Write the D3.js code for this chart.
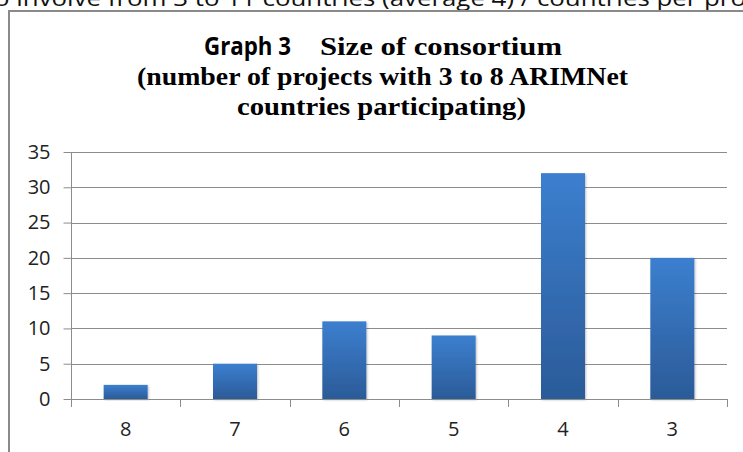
<!DOCTYPE html>
<html>
<head>
<meta charset="utf-8">
<script src="https://cdn.jsdelivr.net/npm/d3@7"></script>
<style>
  html, body { margin: 0; padding: 0; background: #fff; }
  svg { display: block; }
</style>
</head>
<body>
<svg id="chart" width="743" height="452"></svg>
<script>
const categories = ["8", "7", "6", "5", "4", "3"];
const values = [2, 5, 11, 9, 32, 20];
const yTicks = [0, 5, 10, 15, 20, 25, 30, 35];
const titleLine1a = "Graph 3";
const titleLine1b = "Size of consortium";
const titleLine2 = "(number of projects with 3 to 8 ARIMNet";
const titleLine3 = "countries participating)";
const topText = "o involve from 3 to 11 countries (average 4) / countries per pro";

const svg = d3.select("#chart");
const W = 743, H = 452;
const m = { left: 71, right: 727, top: 152, bottom: 399 };

// cropped text at top of page
svg.append("text")
  .attr("x", -6).attr("y", 6)
  .attr("font-family", "Open Sans, Liberation Sans, sans-serif")
  .attr("font-size", 22)
  .attr("fill", "#111")
  .attr("textLength", 752)
  .attr("lengthAdjust", "spacingAndGlyphs")
  .text(topText);

// chart border
svg.append("rect")
  .attr("x", 9).attr("y", 11)
  .attr("width", 800).attr("height", 500)
  .attr("fill", "#fff")
  .attr("stroke", "#8a8a8a")
  .attr("stroke-width", 2);

const defs = svg.append("defs");
const grad = defs.append("linearGradient")
  .attr("id", "barGrad").attr("x1", 0).attr("y1", 0).attr("x2", 0).attr("y2", 1);
grad.append("stop").attr("offset", "0%").attr("stop-color", "#3c7fcf");
grad.append("stop").attr("offset", "100%").attr("stop-color", "#2b5b98");

const filter = defs.append("filter").attr("id", "shadow")
  .attr("x", "-20%").attr("y", "-10%").attr("width", "140%").attr("height", "120%");
filter.append("feDropShadow").attr("dx", 1).attr("dy", 1).attr("stdDeviation", 1)
  .attr("flood-color", "#000").attr("flood-opacity", 0.25);

// Title
const serif = "Liberation Serif, DejaVu Serif, serif";
const title1 = svg.append("text")
  .attr("y", 55).attr("font-weight", "bold").attr("fill", "#000");
title1.append("tspan")
  .attr("x", 204)
  .attr("font-family", "Liberation Sans Narrow, Open Sans, sans-serif")
  .attr("font-size", 25)
  .attr("textLength", 87).attr("lengthAdjust", "spacingAndGlyphs")
  .text(titleLine1a);
title1.append("tspan")
  .attr("x", 320)
  .attr("font-family", serif)
  .attr("font-size", 25)
  .attr("textLength", 242).attr("lengthAdjust", "spacingAndGlyphs")
  .text(titleLine1b);

svg.append("text")
  .attr("x", 137).attr("y", 85)
  .attr("font-family", serif).attr("font-size", 25).attr("font-weight", "bold")
  .attr("textLength", 491).attr("lengthAdjust", "spacingAndGlyphs")
  .text(titleLine2);
svg.append("text")
  .attr("x", 237).attr("y", 115)
  .attr("font-family", serif).attr("font-size", 25).attr("font-weight", "bold")
  .attr("textLength", 289).attr("lengthAdjust", "spacingAndGlyphs")
  .text(titleLine3);

// Scales
const x = d3.scaleBand().domain(categories).range([m.left, m.right]).paddingInner(0).paddingOuter(0);
const y = d3.scaleLinear().domain([0, 35]).range([m.bottom, m.top]);

const gridColor = "#8c8c8c";

// Gridlines
svg.append("g")
  .selectAll("line")
  .data(yTicks.filter(d => d > 0))
  .join("line")
  .attr("x1", m.left).attr("x2", m.right)
  .attr("y1", d => Math.round(y(d)) + 0.5).attr("y2", d => Math.round(y(d)) + 0.5)
  .attr("stroke", gridColor).attr("stroke-width", 1);

// Y axis
const yAxis = svg.append("g")
  .attr("transform", `translate(${m.left + 0.5},0)`)
  .call(d3.axisLeft(y).tickValues(yTicks).tickSize(8).tickPadding(13));
yAxis.select(".domain").attr("stroke", gridColor).attr("d", `M0,${m.top}V${m.bottom + 8}`);
yAxis.selectAll(".tick line").attr("stroke", gridColor);
yAxis.selectAll(".tick text")
  .attr("font-family", "Open Sans, Liberation Sans, sans-serif")
  .attr("font-size", 20).attr("fill", "#222");

// Bars
const bw = 44;
svg.append("g")
  .selectAll("rect")
  .data(values)
  .join("rect")
  .attr("x", (d, i) => x(categories[i]) + x.bandwidth() / 2 - bw / 2)
  .attr("width", bw)
  .attr("y", d => y(d))
  .attr("height", d => y(0) - y(d))
  .attr("fill", "url(#barGrad)")
  .attr("filter", "url(#shadow)");

// X axis
const xAxis = svg.append("g")
  .attr("transform", `translate(0,${m.bottom + 0.5})`)
  .call(d3.axisBottom(x).tickSize(0).tickPadding(22));
xAxis.select(".domain").attr("stroke", gridColor).attr("d", `M${m.left},0H${m.right}`);
xAxis.selectAll(".tick text")
  .attr("font-family", "Open Sans, Liberation Sans, sans-serif")
  .attr("font-size", 20).attr("fill", "#222");

// category boundary ticks
svg.append("g")
  .selectAll("line")
  .data(categories.slice(1).concat(["__end"]))
  .join("line")
  .attr("x1", d => Math.round(d === "__end" ? m.right : x(d)) + 0.5)
  .attr("x2", d => Math.round(d === "__end" ? m.right : x(d)) + 0.5)
  .attr("y1", m.bottom).attr("y2", m.bottom + 8)
  .attr("stroke", gridColor);
</script>
</body>
</html>
